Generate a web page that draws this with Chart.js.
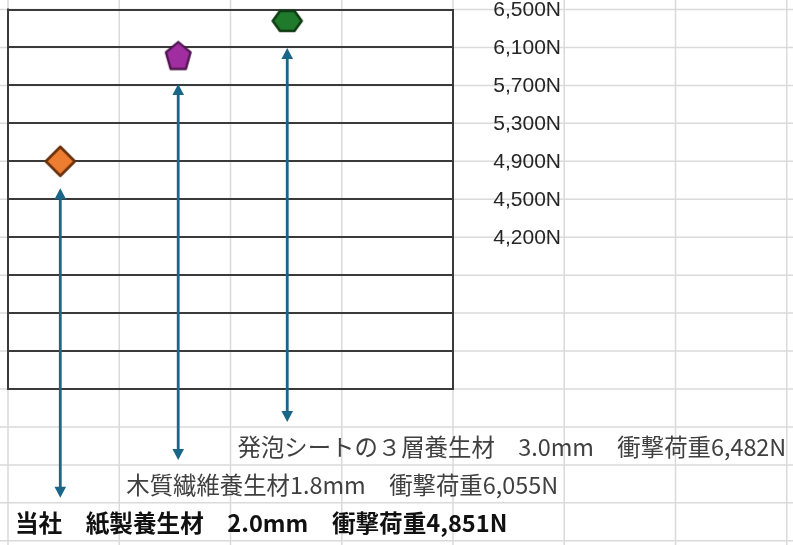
<!DOCTYPE html>
<html><head><meta charset="utf-8">
<script src="https://cdn.jsdelivr.net/npm/chart.js@4"></script>
<style>html,body{margin:0;padding:0;background:#fff;overflow:hidden;}</style>
</head><body>
<canvas id="c" width="793" height="545"></canvas>
<script>
// ---- data ----
const materialNames = ['当社　紙製養生材', '木質繊維養生材', '発泡シートの３層養生材'];
const nameSeparators = ['　', '', '　'];
const thickness = ['2.0mm', '1.8mm', '3.0mm'];
const impactLoad = [4851, 6055, 6482];          // stated impact load (N)
const markerLevel = [4900, 6000, 6380];         // where each marker sits on the drawn scale
const markerColumn = [0.47, 1.53, 2.51];        // horizontal placement (sheet columns)
const tickValues = [6500, 6100, 5700, 5300, 4900, 4500, 4100];
const tickLabels = ['6,500N', '6,100N', '5,700N', '5,300N', '4,900N', '4,500N', '4,200N'];
const yMin = 2500, yMax = 6500, yStep = 400;

// ---- styles ----
const fills = ['#ED7D31', '#A12EA0', '#1F7A2C'];
const strokes = ['#6A300A', '#4C134B', '#0E3A12'];
const arrowColor = '#1A6688';
const labelFontFamily = '"Liberation Sans", Arial, sans-serif';
const labelFontSize = 21;
const cjkFont = '"Noto Sans CJK JP", sans-serif';

function polyCanvas(sides, rx, ry, rot, fill, stroke, lw) {
  const c = document.createElement('canvas');
  const W = Math.ceil(2 * rx + 2 * lw + 2), H = Math.ceil(2 * ry + 2 * lw + 2);
  c.width = W; c.height = H;
  const g = c.getContext('2d');
  g.translate(W / 2, H / 2);
  g.beginPath();
  for (let k = 0; k < sides; k++) {
    const t = rot + k * 2 * Math.PI / sides;
    g.lineTo(rx * Math.cos(t), ry * Math.sin(t));
  }
  g.closePath();
  g.fillStyle = fill; g.fill();
  g.lineWidth = lw; g.strokeStyle = stroke; g.lineJoin = 'round'; g.stroke();
  return c;
}
const pointStyles = [
  polyCanvas(4, 14.5, 14.5, 0, fills[0], strokes[0], 2.6),
  polyCanvas(5, 13, 15, -Math.PI / 2, fills[1], strokes[1], 2.2),
  polyCanvas(6, 14.5, 11.5, 0, fills[2], strokes[2], 2.5)
];

const labelTexts = materialNames.map((n, i) =>
  n + nameSeparators[i] + thickness[i] + '　衝撃荷重' + impactLoad[i].toLocaleString('en-US') + 'N');

// measure widest tick label to right-align labels at the sheet column edge
const mctx = document.createElement('canvas').getContext('2d');
mctx.font = labelFontSize + 'px ' + labelFontFamily;
const widestLabel = Math.max(...tickLabels.map(t => mctx.measureText(t).width));
const axisWidth = 108;
const labelRightEdge = 107;

const sheetPlugin = {
  id: 'sheet',
  beforeDraw(chart) {
    const {ctx, chartArea: a, scales: {x, y}} = chart;
    const colW = x.getPixelForValue(1) - x.getPixelForValue(0);
    const rowH = y.getPixelForValue(yMax - yStep) - y.getPixelForValue(yMax);
    ctx.save();
    ctx.fillStyle = '#fff';
    ctx.fillRect(0, 0, chart.width, chart.height);
    ctx.strokeStyle = '#dadada';
    ctx.lineWidth = 1.5;
    for (let px = a.left; px < chart.width + 1; px += colW) {
      ctx.beginPath(); ctx.moveTo(px, 0); ctx.lineTo(px, chart.height); ctx.stroke();
    }
    for (let py = a.top; py < chart.height + 1; py += rowH) {
      ctx.beginPath(); ctx.moveTo(0, py); ctx.lineTo(chart.width, py); ctx.stroke();
    }
    ctx.restore();
  },
  beforeDatasetsDraw(chart) {
    const {ctx, chartArea: a, scales: {y}} = chart;
    const rowH = y.getPixelForValue(yMax - yStep) - y.getPixelForValue(yMax);
    const pts = chart.getDatasetMeta(0).data;
    const n = pts.length;
    ctx.save();
    ctx.strokeStyle = arrowColor; ctx.fillStyle = arrowColor; ctx.lineWidth = 2.8;
    pts.forEach((p, i) => {
      const row = n + 1 - i;
      const x0 = p.x;
      const yTop = p.y + 27;
      const yBot = a.bottom + (row - 1) * rowH - 5;
      const h = 11, w = 5.8;
      ctx.beginPath(); ctx.moveTo(x0, yTop + h - 2); ctx.lineTo(x0, yBot - h + 2); ctx.stroke();
      ctx.beginPath(); ctx.moveTo(x0, yTop); ctx.lineTo(x0 - w, yTop + h); ctx.lineTo(x0 + w, yTop + h); ctx.closePath(); ctx.fill();
      ctx.beginPath(); ctx.moveTo(x0, yBot); ctx.lineTo(x0 - w, yBot - h); ctx.lineTo(x0 + w, yBot - h); ctx.closePath(); ctx.fill();
    });
    ctx.restore();
  },
  afterDraw(chart) {
    const {ctx, chartArea: a, scales: {x, y}} = chart;
    const colW = x.getPixelForValue(1) - x.getPixelForValue(0);
    const rowH = y.getPixelForValue(yMax - yStep) - y.getPixelForValue(yMax);
    ctx.save();
    ctx.strokeStyle = '#3a3a3a'; ctx.lineWidth = 2;
    ctx.beginPath(); ctx.moveTo(a.left, a.top - 1); ctx.lineTo(a.left, a.bottom + 1); ctx.stroke();
    const n = labelTexts.length;
    ctx.textBaseline = 'middle';
    ctx.textAlign = 'left';
    labelTexts.forEach((t, i) => {
      const row = n + 1 - i;
      const cy = a.bottom + (row - 0.5) * rowH + 1;
      const tx = a.left + i * colW + 7;
      ctx.font = (i === 0 ? 'bold 23.6px ' : '23.4px ') + cjkFont;
      ctx.fillStyle = i === 0 ? '#111' : '#404040';
      ctx.fillText(t, tx, cy);
    });
    ctx.restore();
  }
};

new Chart(document.getElementById('c'), {
  type: 'scatter',
  data: {
    datasets: [{
      data: markerColumn.map((c, i) => ({x: c, y: markerLevel[i]})),
      pointStyle: pointStyles,
      pointRadius: 1,
      pointBorderWidth: 0,
      pointHoverRadius: 1
    }]
  },
  options: {
    responsive: false,
    animation: false,
    devicePixelRatio: 1,
    layout: {padding: {left: 8, top: 9.5, right: 793 - 453 - axisWidth, bottom: 156}},
    plugins: {legend: {display: false}, tooltip: {enabled: false}},
    clip: false,
    scales: {
      x: {type: 'linear', min: 0, max: 4, display: false},
      y: {
        type: 'linear', position: 'right', min: yMin, max: yMax,
        ticks: {
          stepSize: yStep, autoSkip: false,
          callback: (v) => { const k = tickValues.indexOf(v); return k < 0 ? '' : tickLabels[k]; },
          font: {family: labelFontFamily, size: labelFontSize},
          color: '#262626',
          padding: labelRightEdge - widestLabel,
          crossAlign: 'far',
          labelOffset: 1
        },
        grid: {color: '#3a3a3a', lineWidth: 2, drawTicks: false},
        border: {display: true, color: '#3a3a3a', width: 2},
        afterFit(s) { s.width = axisWidth; s.paddingTop = 0; s.paddingBottom = 0; }
      }
    }
  },
  plugins: [sheetPlugin]
});
</script>
</body></html>
